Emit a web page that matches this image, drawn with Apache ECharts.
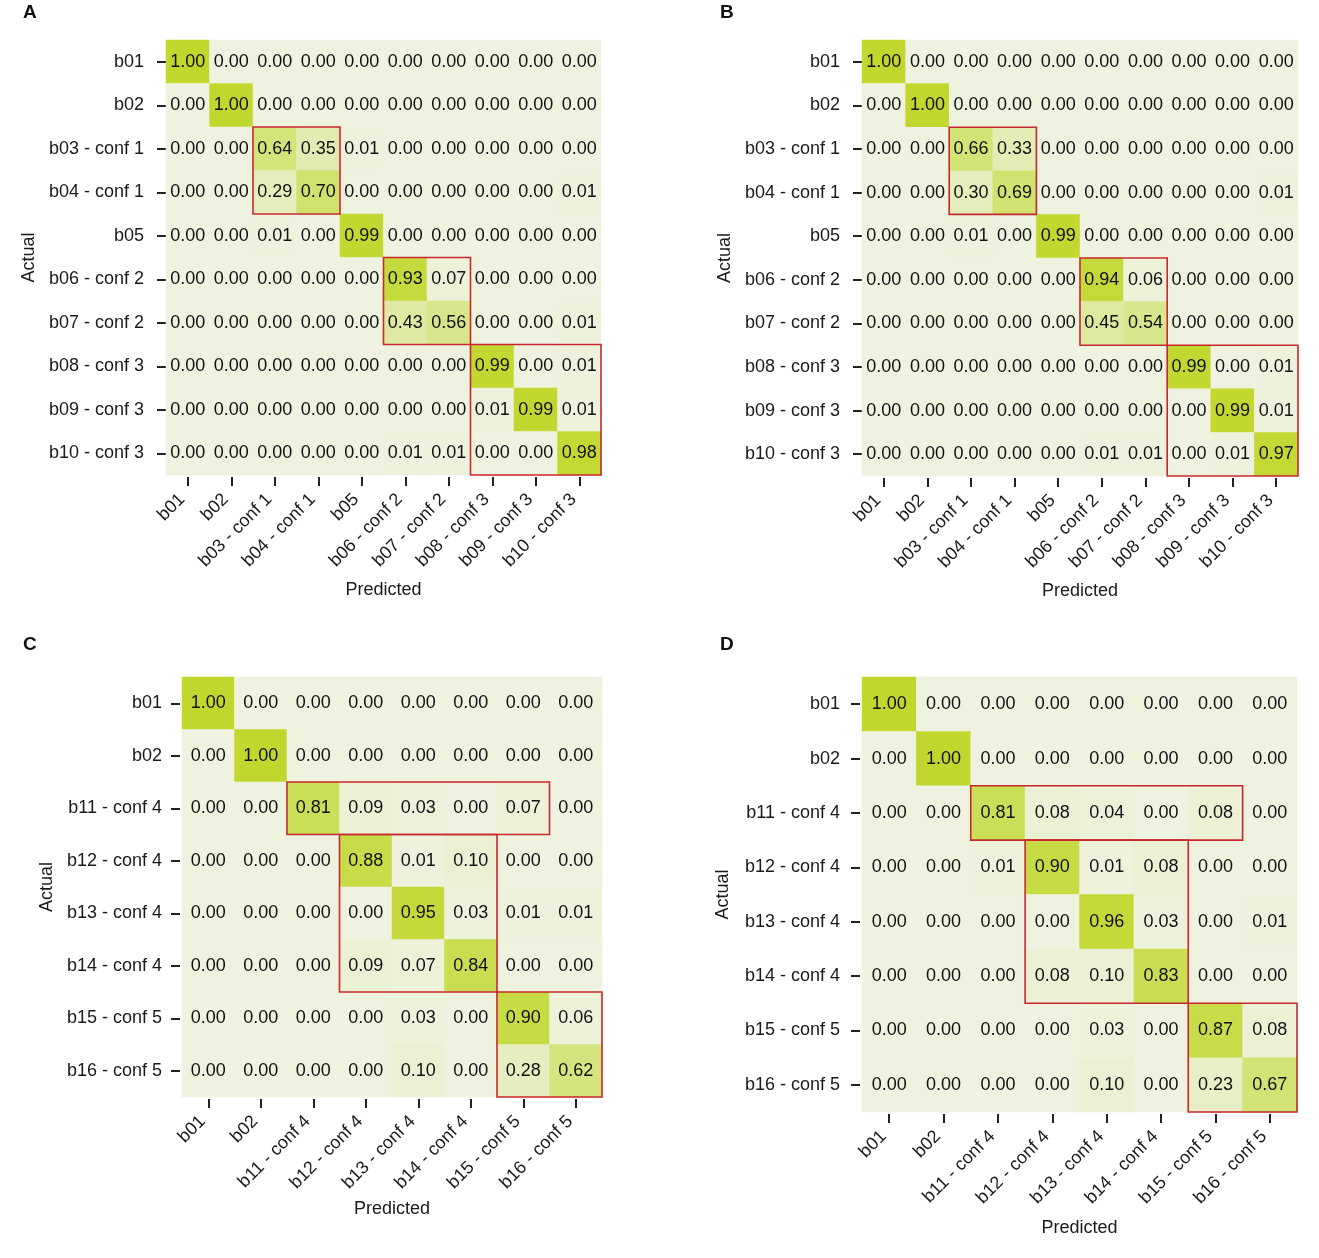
<!DOCTYPE html>
<html>
<head>
<meta charset="utf-8">
<script src="https://cdn.jsdelivr.net/npm/echarts@6/dist/echarts.min.js"></script>
<style>
  html, body { margin: 0; padding: 0; background: #fff; }
  #main { width: 1319px; height: 1258px; }
</style>
</head>
<body>
<div id="main"></div>
<script>
var labelsAB = ['b01', 'b02', 'b03 - conf 1', 'b04 - conf 1', 'b05', 'b06 - conf 2',
  'b07 - conf 2', 'b08 - conf 3', 'b09 - conf 3', 'b10 - conf 3'];
var labelsCD = ['b01', 'b02', 'b11 - conf 4', 'b12 - conf 4', 'b13 - conf 4',
  'b14 - conf 4', 'b15 - conf 5', 'b16 - conf 5'];

var matrixA = [
  [1.00, 0.00, 0.00, 0.00, 0.00, 0.00, 0.00, 0.00, 0.00, 0.00],
  [0.00, 1.00, 0.00, 0.00, 0.00, 0.00, 0.00, 0.00, 0.00, 0.00],
  [0.00, 0.00, 0.64, 0.35, 0.01, 0.00, 0.00, 0.00, 0.00, 0.00],
  [0.00, 0.00, 0.29, 0.70, 0.00, 0.00, 0.00, 0.00, 0.00, 0.01],
  [0.00, 0.00, 0.01, 0.00, 0.99, 0.00, 0.00, 0.00, 0.00, 0.00],
  [0.00, 0.00, 0.00, 0.00, 0.00, 0.93, 0.07, 0.00, 0.00, 0.00],
  [0.00, 0.00, 0.00, 0.00, 0.00, 0.43, 0.56, 0.00, 0.00, 0.01],
  [0.00, 0.00, 0.00, 0.00, 0.00, 0.00, 0.00, 0.99, 0.00, 0.01],
  [0.00, 0.00, 0.00, 0.00, 0.00, 0.00, 0.00, 0.01, 0.99, 0.01],
  [0.00, 0.00, 0.00, 0.00, 0.00, 0.01, 0.01, 0.00, 0.00, 0.98]
];
var matrixB = [
  [1.00, 0.00, 0.00, 0.00, 0.00, 0.00, 0.00, 0.00, 0.00, 0.00],
  [0.00, 1.00, 0.00, 0.00, 0.00, 0.00, 0.00, 0.00, 0.00, 0.00],
  [0.00, 0.00, 0.66, 0.33, 0.00, 0.00, 0.00, 0.00, 0.00, 0.00],
  [0.00, 0.00, 0.30, 0.69, 0.00, 0.00, 0.00, 0.00, 0.00, 0.01],
  [0.00, 0.00, 0.01, 0.00, 0.99, 0.00, 0.00, 0.00, 0.00, 0.00],
  [0.00, 0.00, 0.00, 0.00, 0.00, 0.94, 0.06, 0.00, 0.00, 0.00],
  [0.00, 0.00, 0.00, 0.00, 0.00, 0.45, 0.54, 0.00, 0.00, 0.00],
  [0.00, 0.00, 0.00, 0.00, 0.00, 0.00, 0.00, 0.99, 0.00, 0.01],
  [0.00, 0.00, 0.00, 0.00, 0.00, 0.00, 0.00, 0.00, 0.99, 0.01],
  [0.00, 0.00, 0.00, 0.00, 0.00, 0.01, 0.01, 0.00, 0.01, 0.97]
];
var matrixC = [
  [1.00, 0.00, 0.00, 0.00, 0.00, 0.00, 0.00, 0.00],
  [0.00, 1.00, 0.00, 0.00, 0.00, 0.00, 0.00, 0.00],
  [0.00, 0.00, 0.81, 0.09, 0.03, 0.00, 0.07, 0.00],
  [0.00, 0.00, 0.00, 0.88, 0.01, 0.10, 0.00, 0.00],
  [0.00, 0.00, 0.00, 0.00, 0.95, 0.03, 0.01, 0.01],
  [0.00, 0.00, 0.00, 0.09, 0.07, 0.84, 0.00, 0.00],
  [0.00, 0.00, 0.00, 0.00, 0.03, 0.00, 0.90, 0.06],
  [0.00, 0.00, 0.00, 0.00, 0.10, 0.00, 0.28, 0.62]
];
var matrixD = [
  [1.00, 0.00, 0.00, 0.00, 0.00, 0.00, 0.00, 0.00],
  [0.00, 1.00, 0.00, 0.00, 0.00, 0.00, 0.00, 0.00],
  [0.00, 0.00, 0.81, 0.08, 0.04, 0.00, 0.08, 0.00],
  [0.00, 0.00, 0.01, 0.90, 0.01, 0.08, 0.00, 0.00],
  [0.00, 0.00, 0.00, 0.00, 0.96, 0.03, 0.00, 0.01],
  [0.00, 0.00, 0.00, 0.08, 0.10, 0.83, 0.00, 0.00],
  [0.00, 0.00, 0.00, 0.00, 0.03, 0.00, 0.87, 0.08],
  [0.00, 0.00, 0.00, 0.00, 0.10, 0.00, 0.23, 0.67]
];

// red group boxes: [col from, row from, col to, row to]
var boxesAB = [[2, 2, 3, 3], [5, 5, 6, 6], [7, 7, 9, 9]];
var boxesCD = [[2, 2, 6, 2], [3, 3, 5, 5], [6, 6, 7, 7]];

var FONT = 'Liberation Sans, Arial, Helvetica, sans-serif';
var chart = echarts.init(document.getElementById('main'));

function toCells(m) {
  var out = [];
  for (var r = 0; r < m.length; r++) {
    for (var c = 0; c < m[r].length; c++) {
      out.push([c, r, m[r][c]]);
    }
  }
  return out;
}

function renderBox(params, api) {
  var a = api.coord([api.value(0), api.value(1)]);
  var b = api.coord([api.value(2), api.value(3)]);
  var s = api.size([1, 1]);
  return {
    type: 'rect',
    shape: {
      x: Math.min(a[0], b[0]) - s[0] / 2,
      y: Math.min(a[1], b[1]) - s[1] / 2,
      width: Math.abs(b[0] - a[0]) + s[0],
      height: Math.abs(b[1] - a[1]) + s[1]
    },
    style: { fill: 'none', stroke: '#c8282d', lineWidth: 1.6 }
  };
}

var panels = [
  { letter: 'A', labels: labelsAB, m: matrixA, boxes: boxesAB, left: 166, top: 40, size: 435, yOff: 0, yMargin: 22, nameGap: 104, yNameGap: 128 },
  { letter: 'B', labels: labelsAB, m: matrixB, boxes: boxesAB, left: 862, top: 40, size: 436, yOff: 0, yMargin: 22, nameGap: 104, yNameGap: 128 },
  { letter: 'C', labels: labelsCD, m: matrixC, boxes: boxesCD, left: 182, top: 677, size: 420, yOff: 2, yMargin: 18, nameGap: 101, yNameGap: 124 },
  { letter: 'D', labels: labelsCD, m: matrixD, boxes: boxesCD, left: 862, top: 677, size: 435, yOff: 2, yMargin: 20, nameGap: 105, yNameGap: 128 }
];

var option = {
  backgroundColor: '#fff',
  animation: false,
  textStyle: { fontFamily: FONT },
  title: [],
  grid: [],
  xAxis: [],
  yAxis: [],
  visualMap: {
    type: 'continuous',
    show: false,
    min: 0,
    max: 1,
    seriesIndex: [0, 2, 4, 6],
    inRange: { color: ['#eef2de', '#e7eec4', '#dce796', '#cee064', '#c2d72e'] }
  },
  series: []
};

var hiddenLine = { show: true, lineStyle: { color: 'rgba(0,0,0,0)', width: 0 } };

panels.forEach(function (p, i) {
  option.title.push({
    text: p.letter,
    left: i % 2 === 0 ? 23 : 720,
    top: i < 2 ? 3 : 635,
    padding: 0,
    textStyle: { fontFamily: FONT, fontSize: 19, fontWeight: 'bold', color: '#111' }
  });
  option.grid.push({ left: p.left, top: p.top, width: p.size, height: p.size });
  option.xAxis.push({
    type: 'category',
    gridIndex: i,
    data: p.labels,
    offset: 2,
    name: 'Predicted',
    nameLocation: 'middle',
    nameGap: p.nameGap,
    nameTextStyle: { fontFamily: FONT, fontSize: 18, color: '#1a1a1a' },
    axisLine: hiddenLine,
    axisTick: { show: true, alignWithLabel: true, length: 9, lineStyle: { color: '#222', width: 2 } },
    axisLabel: { rotate: 45, margin: 14, padding: [0, 8, 0, 0], fontSize: 18, color: '#1a1a1a', fontFamily: FONT, interval: 0 },
    splitLine: { show: false }
  });
  option.yAxis.push({
    type: 'category',
    gridIndex: i,
    data: p.labels,
    inverse: true,
    offset: p.yOff,
    name: 'Actual',
    nameLocation: 'middle',
    nameRotate: 90,
    nameGap: p.yNameGap,
    nameTextStyle: { fontFamily: FONT, fontSize: 18, color: '#1a1a1a' },
    axisLine: hiddenLine,
    axisTick: { show: true, alignWithLabel: true, length: 9, lineStyle: { color: '#222', width: 2 } },
    axisLabel: { margin: p.yMargin, fontSize: 18, color: '#1a1a1a', fontFamily: FONT, interval: 0 },
    splitLine: { show: false }
  });
  option.series.push({
    type: 'heatmap',
    xAxisIndex: i,
    yAxisIndex: i,
    data: toCells(p.m),
    label: {
      show: true,
      fontSize: 18,
      fontFamily: FONT,
      color: '#111',
      formatter: function (d) { return d.value[2].toFixed(2); }
    },
    emphasis: { disabled: true }
  });
  option.series.push({
    type: 'custom',
    xAxisIndex: i,
    yAxisIndex: i,
    renderItem: renderBox,
    data: p.boxes,
    z: 5,
    silent: true
  });
});

chart.setOption(option);
</script>
</body>
</html>
